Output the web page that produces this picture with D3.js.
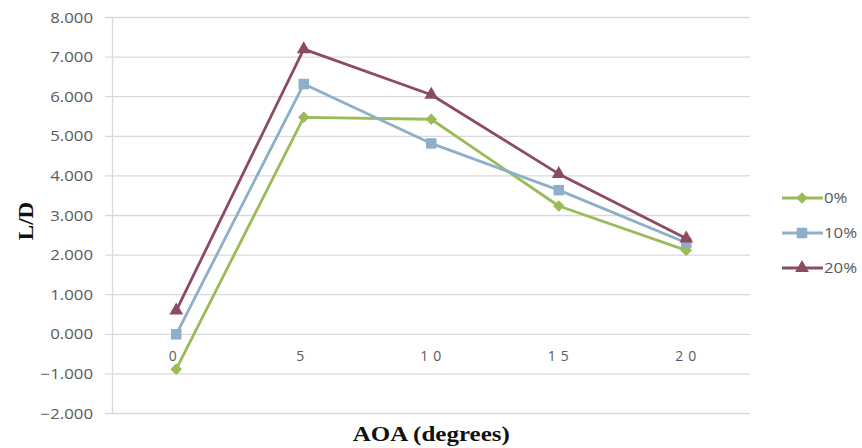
<!DOCTYPE html>
<html>
<head>
<meta charset="utf-8">
<script src="https://cdn.jsdelivr.net/npm/d3@7"></script>
<style>
  html,body{margin:0;padding:0;background:#fff;}
  svg{display:block;}
  .tick-lbl{font-family:"Open Sans",sans-serif;font-size:14px;fill:#595959;}
  .ttl{font-family:"Liberation Serif","Times New Roman",serif;font-weight:bold;font-size:20px;fill:#111;}
</style>
</head>
<body>
<svg id="chart"></svg>
<script>
// data
const aoa=[0,5,10,15,20];
const seriesNames=['0%','10%','20%'];
const ld0=[-0.88,5.48,5.43,3.24,2.12];
const ld10=[0.0,6.32,4.82,3.64,2.31];
const ld20=[0.60,7.20,6.05,4.05,2.42];
const yTicks=[-2,-1,0,1,2,3,4,5,6,7,8];

const W=862,H=448;
const svg=d3.select('#chart').attr('width',W).attr('height',H);
const plot={l:112.5,r:750,t:17.5,b:413.5};
const x=d3.scalePoint().domain(aoa).range([plot.l,plot.r]).padding(0.5);
const y=d3.scaleLinear().domain([-2,8]).range([plot.b,plot.t]);
const stretch=1.2; // text in the picture is drawn wide
function widen(sel,k){ sel.attr('textLength',function(){return this.getComputedTextLength()*(k||stretch);}).attr('lengthAdjust','spacingAndGlyphs'); }

const series=[
  {name:seriesNames[0],vals:ld0,color:'#9bbb59',shape:d3.symbolDiamond2,size:85},
  {name:seriesNames[1],vals:ld10,color:'#8eafc8',shape:d3.symbolSquare2,size:140},
  {name:seriesNames[2],vals:ld20,color:'#8d4b62',shape:d3.symbolTriangle2,size:135}
];

// gridlines + y tick marks
svg.append('g').selectAll('line').data(yTicks).enter().append('line')
  .attr('x1',plot.l-7.5).attr('x2',plot.r).attr('y1',d=>y(d)).attr('y2',d=>y(d))
  .attr('stroke','#d9d9d9').attr('stroke-width',1.3);
svg.append('line').attr('x1',plot.l).attr('x2',plot.l).attr('y1',plot.t).attr('y2',plot.b)
  .attr('stroke','#d9d9d9').attr('stroke-width',1.3);

// y labels
const yl=svg.append('g').selectAll('text').data(yTicks).enter().append('text').attr('class','tick-lbl')
  .attr('x',93).attr('y',d=>y(d)).attr('dy','0.36em').attr('text-anchor','end').text(d=>d3.format('.3f')(d));
widen(yl);

// x labels sit next to the zero line, digits spaced out
svg.append('g').selectAll('text').data(aoa).enter().append('text').attr('class','tick-lbl')
  .attr('x',d=>x(d)+(d>=10?2:-1)).attr('y',y(0)+27).attr('text-anchor','middle')
  .style('letter-spacing','5px').text(d=>d);

// lines + markers
const line=d3.line().x((d,i)=>x(aoa[i])).y(d=>y(d));
series.forEach(s=>{
  const g=svg.append('g');
  g.append('path').datum(s.vals).attr('d',line).attr('fill','none').attr('stroke',s.color).attr('stroke-width',2.8).attr('stroke-linejoin','round');
  g.selectAll('path.m').data(s.vals).enter().append('path').attr('class','m')
    .attr('d',d3.symbol().type(s.shape).size(s.size)).attr('fill',s.color)
    .attr('transform',(d,i)=>'translate('+x(aoa[i])+','+y(d)+')');
});

// legend
const lgY=[198,233,268];
series.forEach((s,i)=>{
  const g=svg.append('g').attr('transform','translate(0,'+lgY[i]+')');
  g.append('line').attr('x1',782).attr('x2',823).attr('stroke',s.color).attr('stroke-width',2.8);
  g.append('path').attr('d',d3.symbol().type(s.shape).size(s.size)).attr('fill',s.color).attr('transform','translate(802,0)');
  const t=g.append('text').attr('class','tick-lbl').attr('x',824).attr('dy','0.36em').text(s.name);
  widen(t);
});

// axis titles
const xt=svg.append('text').attr('class','ttl').attr('x',(plot.l+plot.r)/2).attr('y',441).attr('text-anchor','middle').text('AOA (degrees)');
widen(xt,1.25);
const yt=svg.append('text').attr('class','ttl').attr('transform','translate(33,221) rotate(-90)').attr('text-anchor','middle').text('L/D');
widen(yt,1.15);
</script>
</body>
</html>
